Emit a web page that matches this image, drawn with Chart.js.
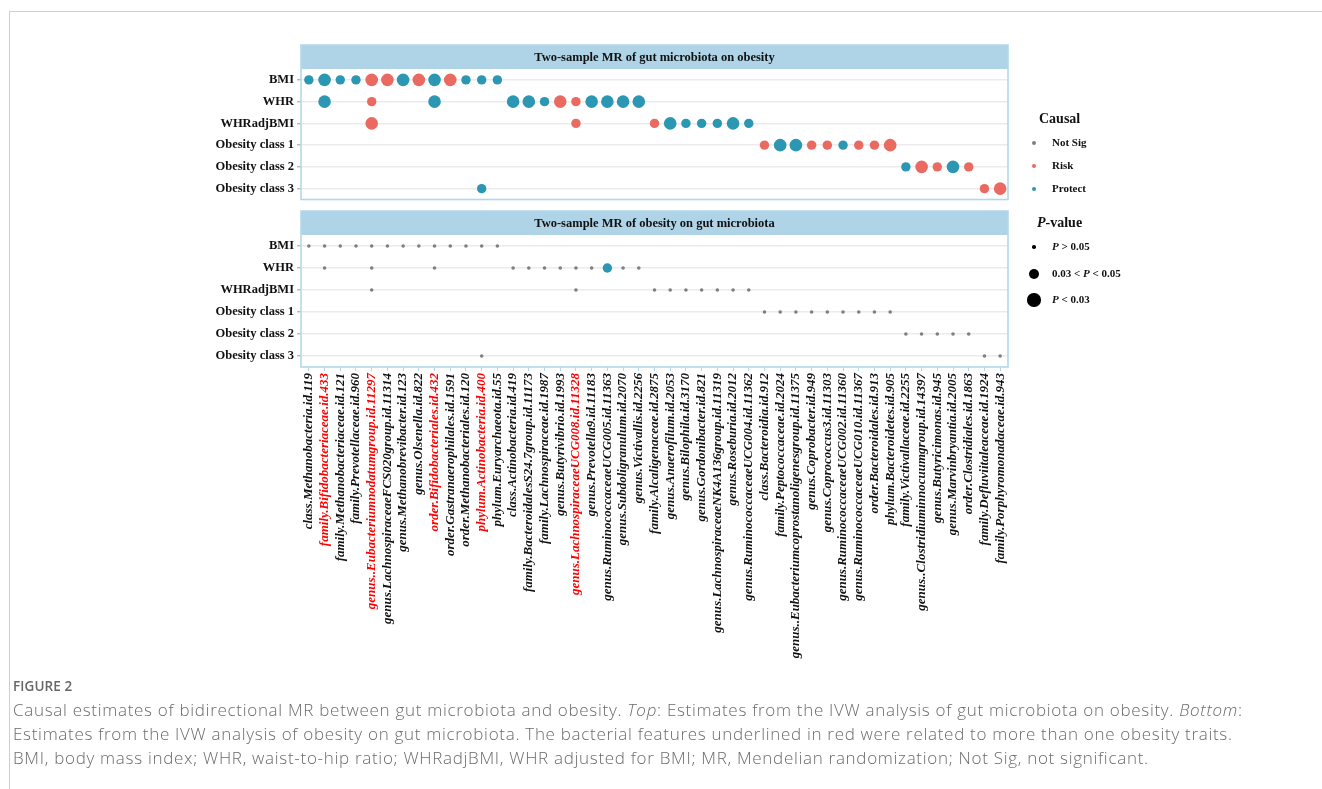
<!DOCTYPE html>
<html>
<head>
<meta charset="utf-8">
<script src="https://cdn.jsdelivr.net/npm/chart.js@4.4.0/dist/chart.umd.min.js"></script>
<style>
html,body{margin:0;padding:0;background:#fff;}
#page{position:relative;width:1322px;height:789px;overflow:hidden;background:#fff;}
.frameTop{position:absolute;left:9px;top:11px;width:1313px;height:0;border-top:1px solid #cfcfcf;}
.frameLeft{position:absolute;left:9px;top:11px;width:0;height:778px;border-left:1px solid #cfcfcf;}
canvas{position:absolute;left:0;}
#cTop{top:0;}
#cBot{top:200px;}
.lg{position:absolute;font-family:'Liberation Serif','Times New Roman',serif;font-weight:bold;color:#111;white-space:nowrap;line-height:1;}
.lgTitle{font-size:14px;}
.lgItem{font-size:11px;}
.dot{position:absolute;border-radius:50%;}
#caption{position:absolute;left:13px;top:677px;font-family:'Open Sans',sans-serif;color:#6b6b6b;white-space:nowrap;}
#caption .fig{font-size:13.5px;font-weight:600;color:#666;letter-spacing:0.1px;margin-bottom:3px;}
#caption .txt{font-size:17px;font-weight:300;line-height:24px;letter-spacing:0.7px;}
</style>
</head>
<body>
<div id="page">
  <div class="frameTop"></div>
  <div class="frameLeft"></div>
  <canvas id="cTop" width="1322" height="210"></canvas>
  <canvas id="cBot" width="1322" height="480"></canvas>
  <div id="legend"></div>
  <div id="caption">
    <div class="fig">FIGURE 2</div>
    <div class="txt">Causal estimates of bidirectional MR between gut microbiota and obesity. <i>Top</i>: Estimates from the IVW analysis of gut microbiota on obesity. <i>Bottom</i>:<br>Estimates from the IVW analysis of obesity on gut microbiota. The bacterial features underlined in red were related to more than one obesity traits.<br>BMI, body mass index; WHR, waist-to-hip ratio; WHRadjBMI, WHR adjusted for BMI; MR, Mendelian randomization; Not Sig, not significant.</div>
  </div>
</div>
<script>
// ---------------- DATA ----------------
const categories = [
  'class.Methanobacteria.id.119',
  'family.Bifidobacteriaceae.id.433',
  'family.Methanobacteriaceae.id.121',
  'family.Prevotellaceae.id.960',
  'genus..Eubacteriumnodatumgroup.id.11297',
  'genus.LachnospiraceaeFCS020group.id.11314',
  'genus.Methanobrevibacter.id.123',
  'genus.Olsenella.id.822',
  'order.Bifidobacteriales.id.432',
  'order.Gastranaerophilales.id.1591',
  'order.Methanobacteriales.id.120',
  'phylum.Actinobacteria.id.400',
  'phylum.Euryarchaeota.id.55',
  'class.Actinobacteria.id.419',
  'family.BacteroidalesS24.7group.id.11173',
  'family.Lachnospiraceae.id.1987',
  'genus.Butyrivibrio.id.1993',
  'genus.LachnospiraceaeUCG008.id.11328',
  'genus.Prevotella9.id.11183',
  'genus.RuminococcaceaeUCG005.id.11363',
  'genus.Subdoligranulum.id.2070',
  'genus.Victivallis.id.2256',
  'family.Alcaligenaceae.id.2875',
  'genus.Anaerofilum.id.2053',
  'genus.Bilophila.id.3170',
  'genus.Gordonibacter.id.821',
  'genus.LachnospiraceaeNK4A136group.id.11319',
  'genus.Roseburia.id.2012',
  'genus.RuminococcaceaeUCG004.id.11362',
  'class.Bacteroidia.id.912',
  'family.Peptococcaceae.id.2024',
  'genus..Eubacteriumcoprostanoligenesgroup.id.11375',
  'genus.Coprobacter.id.949',
  'genus.Coprococcus3.id.11303',
  'genus.RuminococcaceaeUCG002.id.11360',
  'genus.RuminococcaceaeUCG010.id.11367',
  'order.Bacteroidales.id.913',
  'phylum.Bacteroidetes.id.905',
  'family.Victivallaceae.id.2255',
  'genus..Clostridiuminnocuumgroup.id.14397',
  'genus.Butyricimonas.id.945',
  'genus.Marvinbryantia.id.2005',
  'order.Clostridiales.id.1863',
  'family.Defluviitaleaceae.id.1924',
  'family.Porphyromonadaceae.id.943'
];
const highlighted = [
  'family.Bifidobacteriaceae.id.433',
  'genus..Eubacteriumnodatumgroup.id.11297',
  'order.Bifidobacteriales.id.432',
  'phylum.Actinobacteria.id.400',
  'genus.LachnospiraceaeUCG008.id.11328'
];
const traits = ['BMI','WHR','WHRadjBMI','Obesity class 1','Obesity class 2','Obesity class 3'];

// each cell: [category number (1-based), causal class, P-value class]
// Top: gut microbiota -> obesity
const topBMI = [[1,'Protect','mid'],[2,'Protect','low'],[3,'Protect','mid'],[4,'Protect','mid'],[5,'Risk','low'],[6,'Risk','low'],[7,'Protect','low'],[8,'Risk','low'],[9,'Protect','low'],[10,'Risk','low'],[11,'Protect','mid'],[12,'Protect','mid'],[13,'Protect','mid']];
const topWHR = [[2,'Protect','low'],[5,'Risk','mid'],[9,'Protect','low'],[14,'Protect','low'],[15,'Protect','low'],[16,'Protect','mid'],[17,'Risk','low'],[18,'Risk','mid'],[19,'Protect','low'],[20,'Protect','low'],[21,'Protect','low'],[22,'Protect','low']];
const topWHRadj = [[5,'Risk','low'],[18,'Risk','mid'],[23,'Risk','mid'],[24,'Protect','low'],[25,'Protect','mid'],[26,'Protect','mid'],[27,'Protect','mid'],[28,'Protect','low'],[29,'Protect','mid']];
const topOb1 = [[30,'Risk','mid'],[31,'Protect','low'],[32,'Protect','low'],[33,'Risk','mid'],[34,'Risk','mid'],[35,'Protect','mid'],[36,'Risk','mid'],[37,'Risk','mid'],[38,'Risk','low']];
const topOb2 = [[39,'Protect','mid'],[40,'Risk','low'],[41,'Risk','mid'],[42,'Protect','low'],[43,'Risk','mid']];
const topOb3 = [[12,'Protect','mid'],[44,'Risk','mid'],[45,'Risk','low']];

// Bottom: obesity -> gut microbiota
const botBMI = [[1,'Not Sig','ns'],[2,'Not Sig','ns'],[3,'Not Sig','ns'],[4,'Not Sig','ns'],[5,'Not Sig','ns'],[6,'Not Sig','ns'],[7,'Not Sig','ns'],[8,'Not Sig','ns'],[9,'Not Sig','ns'],[10,'Not Sig','ns'],[11,'Not Sig','ns'],[12,'Not Sig','ns'],[13,'Not Sig','ns']];
const botWHR = [[2,'Not Sig','ns'],[5,'Not Sig','ns'],[9,'Not Sig','ns'],[14,'Not Sig','ns'],[15,'Not Sig','ns'],[16,'Not Sig','ns'],[17,'Not Sig','ns'],[18,'Not Sig','ns'],[19,'Not Sig','ns'],[20,'Protect','mid'],[21,'Not Sig','ns'],[22,'Not Sig','ns']];
const botWHRadj = [[5,'Not Sig','ns'],[18,'Not Sig','ns'],[23,'Not Sig','ns'],[24,'Not Sig','ns'],[25,'Not Sig','ns'],[26,'Not Sig','ns'],[27,'Not Sig','ns'],[28,'Not Sig','ns'],[29,'Not Sig','ns']];
const botOb1 = [[30,'Not Sig','ns'],[31,'Not Sig','ns'],[32,'Not Sig','ns'],[33,'Not Sig','ns'],[34,'Not Sig','ns'],[35,'Not Sig','ns'],[36,'Not Sig','ns'],[37,'Not Sig','ns'],[38,'Not Sig','ns']];
const botOb2 = [[39,'Not Sig','ns'],[40,'Not Sig','ns'],[41,'Not Sig','ns'],[42,'Not Sig','ns'],[43,'Not Sig','ns']];
const botOb3 = [[12,'Not Sig','ns'],[44,'Not Sig','ns'],[45,'Not Sig','ns']];

const causalLevels = ['Not Sig','Risk','Protect'];
const pLevels = ['P > 0.05','0.03 < P < 0.05','P < 0.03'];

// ---------------- STYLE ----------------
const COLORS = {'Not Sig':'#7f7f7f','Risk':'#ea6a62','Protect':'#2b97b2'};
const RADIUS = {ns:1.8, mid:4.7, low:6.3};
const SERIF = "'Liberation Serif','Times New Roman',serif";
const STRIP = '#afd4e8';
const BORDER = '#b3d7ea';

function buildPoints(rows){
  const pts = [];
  rows.forEach(([trait, cells]) => {
    cells.forEach(([n, causal, p]) => {
      pts.push({x: categories[n-1], y: trait, r: RADIUS[p], causal});
    });
  });
  return pts;
}
const topPoints = buildPoints([[traits[0],topBMI],[traits[1],topWHR],[traits[2],topWHRadj],[traits[3],topOb1],[traits[4],topOb2],[traits[5],topOb3]]);
const botPoints = buildPoints([[traits[0],botBMI],[traits[1],botWHR],[traits[2],botWHRadj],[traits[3],botOb1],[traits[4],botOb2],[traits[5],botOb3]]);

const panelPlugin = {
  id: 'panelStrip',
  afterDraw(chart, args, opts){
    const {ctx, chartArea: a} = chart;
    ctx.save();
    ctx.fillStyle = STRIP;
    ctx.fillRect(a.left, a.top - opts.stripH, a.right - a.left, opts.stripH);
    ctx.strokeStyle = BORDER;
    ctx.lineWidth = 1.6;
    ctx.strokeRect(a.left, a.top - opts.stripH, a.right - a.left, a.bottom - a.top + opts.stripH);
    ctx.fillStyle = '#111';
    ctx.font = "bold 12.5px " + SERIF;
    ctx.textAlign = 'center';
    ctx.textBaseline = 'middle';
    ctx.fillText(opts.title, (a.left + a.right) / 2, a.top - opts.stripH / 2 + 1);
    ctx.restore();
  }
};

function yScale(){
  return {
    type: 'category',
    labels: traits,
    offset: true,
    grid: {color: '#ebebeb', lineWidth: 1.6, drawTicks: true, tickLength: 4, tickColor: '#9a9a9a', tickWidth: 1, offset: false},
    border: {display: false},
    ticks: {color: '#111', padding: 3, font: {family: SERIF, weight: 'bold', size: 12.5}},
    afterFit(s){ s.width = 301; }
  };
}

function makeChart(id, points, title, showX, padTop, padBottom, canvasH){
  const x = {
    type: 'category',
    labels: categories,
    offset: true,
    display: showX
  };
  if (showX){
    Object.assign(x, {
      grid: {display: true, drawOnChartArea: false, drawTicks: true, tickLength: 4, color: BORDER, lineWidth: 1, offset: false},
      border: {display: false},
      ticks: {
        autoSkip: false, minRotation: 90, maxRotation: 90, padding: 2,
        font: {family: SERIF, weight: 'bold', style: 'italic', size: 13},
        color: c => highlighted.includes(categories[c.index]) ? '#ff0000' : '#111'
      },
      afterFit(s){ s.height = canvasH - 167; }
    });
  }
  return new Chart(document.getElementById(id), {
    type: 'bubble',
    data: {datasets: [{
      data: points,
      backgroundColor: points.map(p => COLORS[p.causal]),
      borderWidth: 0,
      hoverBorderWidth: 0,
      clip: false
    }]},
    options: {
      responsive: false,
      animation: false,
      events: [],
      layout: {padding: {top: padTop, bottom: padBottom, left: 0, right: 314}},
      plugins: {legend: {display: false}, tooltip: {enabled: false}, panelStrip: {title, stripH: 24}},
      scales: {x, y: yScale()}
    },
    plugins: [panelPlugin]
  });
}

makeChart('cTop', topPoints, 'Two-sample MR of gut microbiota on obesity', false, 69, 5, 210);
makeChart('cBot', botPoints, 'Two-sample MR of obesity on gut microbiota', true, 35, 0, 480);

// ---------------- LEGEND (HTML) ----------------
(function(){
  const lg = document.getElementById('legend');
  function add(html, cls, left, cy, size){
    const d = document.createElement('div');
    d.className = 'lg ' + cls;
    d.innerHTML = html;
    d.style.left = left + 'px';
    d.style.top = (cy - size/2 - 1) + 'px';
    lg.appendChild(d);
  }
  function dot(cx, cy, r, color){
    const d = document.createElement('div');
    d.className = 'dot';
    d.style.left = (cx - r) + 'px'; d.style.top = (cy - r) + 'px';
    d.style.width = (2*r) + 'px'; d.style.height = (2*r) + 'px';
    d.style.background = color;
    lg.appendChild(d);
  }
  add('Causal', 'lgTitle', 1039, 120, 14);
  const cy1 = [143, 166, 189];
  causalLevels.forEach((c, i) => { dot(1034, cy1[i], 2, COLORS[c]); add(c, 'lgItem', 1052, cy1[i], 11); });
  add('<i>P</i>-value', 'lgTitle', 1037, 224, 14);
  const cy2 = [247, 274, 300];
  const rr = [RADIUS.ns, RADIUS.mid + 0.3, RADIUS.low + 0.3];
  const lbl = ['<i>P</i> &gt; 0.05', '0.03 &lt; <i>P</i> &lt; 0.05', '<i>P</i> &lt; 0.03'];
  pLevels.forEach((p, i) => { dot(1034, cy2[i], rr[i], '#000'); add(lbl[i], 'lgItem', 1052, cy2[i], 11); });
})();
</script>
</body>
</html>
